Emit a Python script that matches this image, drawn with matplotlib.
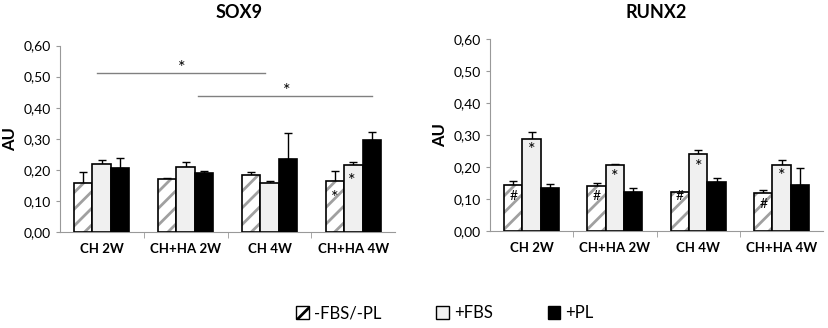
import matplotlib
matplotlib.use("Agg")
import matplotlib.pyplot as plt
import numpy as np
from matplotlib.patches import Patch

plt.rcParams['font.family'] = ['Lato', 'DejaVu Sans']
plt.rcParams['hatch.linewidth'] = 2.0

categories = ["CH 2W", "CH+HA 2W", "CH 4W", "CH+HA 4W"]
series = ["-FBS/-PL", "+FBS", "+PL"]

sox9_none = [0.158, 0.169, 0.183, 0.165]
sox9_fbs = [0.219, 0.210, 0.158, 0.214]
sox9_pl = [0.206, 0.189, 0.234, 0.296]
sox9_none_err = [0.034, 0.003, 0.010, 0.032]
sox9_fbs_err = [0.014, 0.014, 0.007, 0.010]
sox9_pl_err = [0.033, 0.008, 0.086, 0.026]

runx2_none = [0.143, 0.139, 0.121, 0.118]
runx2_fbs = [0.288, 0.207, 0.240, 0.207]
runx2_pl = [0.134, 0.122, 0.153, 0.144]
runx2_none_err = [0.014, 0.010, 0.001, 0.009]
runx2_fbs_err = [0.020, 0.003, 0.012, 0.015]
runx2_pl_err = [0.014, 0.013, 0.013, 0.053]

yticks = [0.0, 0.1, 0.2, 0.3, 0.4, 0.5, 0.6]
ytick_labels = ["0,00", "0,10", "0,20", "0,30", "0,40", "0,50", "0,60"]

fig = plt.figure(figsize=(8.29, 3.28), dpi=100)
ax1 = fig.add_axes([0.072, 0.293, 0.405, 0.568])
ax2 = fig.add_axes([0.591, 0.296, 0.402, 0.585])

W = 0.22
HATCH_GRAY = "#a0a0a0"
FBS_FACE = "#f0f0f0"

def draw(ax, none, fbs, pl, ne, fe, pe):
    x = np.arange(len(categories))
    ax.bar(x - W, none, W, color="white", edgecolor=HATCH_GRAY, hatch="//", linewidth=0, zorder=2)
    ax.bar(x - W, none, W, fill=False, edgecolor="black", linewidth=1.2, zorder=3)
    ax.bar(x, fbs, W, color=FBS_FACE, edgecolor="black", linewidth=1.2, zorder=3)
    ax.bar(x + W, pl, W, color="black", edgecolor="black", linewidth=1.2, zorder=3)
    for off, vals, err in [(-W, none, ne), (0, fbs, fe), (W, pl, pe)]:
        ax.errorbar(x + off, vals, yerr=[np.zeros(len(vals)), err], fmt="none",
                    ecolor="black", elinewidth=1, capsize=3, capthick=1, zorder=1)
    ax.set_xlim(-0.5, 3.5)
    ax.set_ylim(0, 0.6)
    ax.set_yticks(yticks)
    ax.set_yticklabels(ytick_labels, fontsize=10)
    ax.set_xticks(x)
    ax.set_xticklabels(categories, fontsize=9.5, fontweight="bold")
    ax.tick_params(axis="x", length=0, pad=8)
    ax.set_xticks([0.5, 1.5, 2.5], minor=True)
    ax.tick_params(axis="x", which="minor", length=4, color="#999999")
    ax.tick_params(axis="y", length=3, color="#999999")
    for s in ["top", "right"]:
        ax.spines[s].set_visible(False)
    for s in ["left", "bottom"]:
        ax.spines[s].set_color("#999999")
    ax.set_ylabel("AU", fontsize=12, fontweight="bold")

draw(ax1, sox9_none, sox9_fbs, sox9_pl, sox9_none_err, sox9_fbs_err, sox9_pl_err)
draw(ax2, runx2_none, runx2_fbs, runx2_pl, runx2_none_err, runx2_fbs_err, runx2_pl_err)

fig.text(239 / 829, 1 - 12 / 328, "SOX9", ha="center", va="center", fontsize=13, fontweight="bold")
fig.text(656 / 829, 1 - 12 / 328, "RUNX2", ha="center", va="center", fontsize=13, fontweight="bold")

# significance for SOX9
ax1.plot([-0.05, 1.95], [0.511, 0.511], color="#808080", lw=1)
ax1.text(0.95, 0.527, "*", ha="center", va="center", fontsize=13)
ax1.plot([1.15, 3.22], [0.439, 0.439], color="#808080", lw=1)
ax1.text(2.2, 0.455, "*", ha="center", va="center", fontsize=13)
ax1.text(3 - W, 0.11, "*", ha="center", va="center", fontsize=13)
ax1.text(3 - 0.02, 0.163, "*", ha="center", va="center", fontsize=13)

# RUNX2 marks
hash_y = [0.11, 0.11, 0.11, 0.085]
star_y = [0.252, 0.17, 0.2, 0.173]
for i in range(4):
    ax2.text(i - W, hash_y[i], "#", ha="center", va="center", fontsize=10)
    ax2.text(i, star_y[i], "*", ha="center", va="center", fontsize=13)

handles = [Patch(facecolor="white", edgecolor="black", hatch="//", linewidth=1),
           Patch(facecolor=FBS_FACE, edgecolor="black", linewidth=1),
           Patch(facecolor="black", edgecolor="black", linewidth=1)]
fig.legend(handles, series, loc="center", bbox_to_anchor=(445 / 829, 0.045), ncol=3,
           frameon=False, fontsize=12, handlelength=0.75, handleheight=0.75,
           handletextpad=0.3, columnspacing=3.3)

fig.savefig("out.png", dpi=100)
